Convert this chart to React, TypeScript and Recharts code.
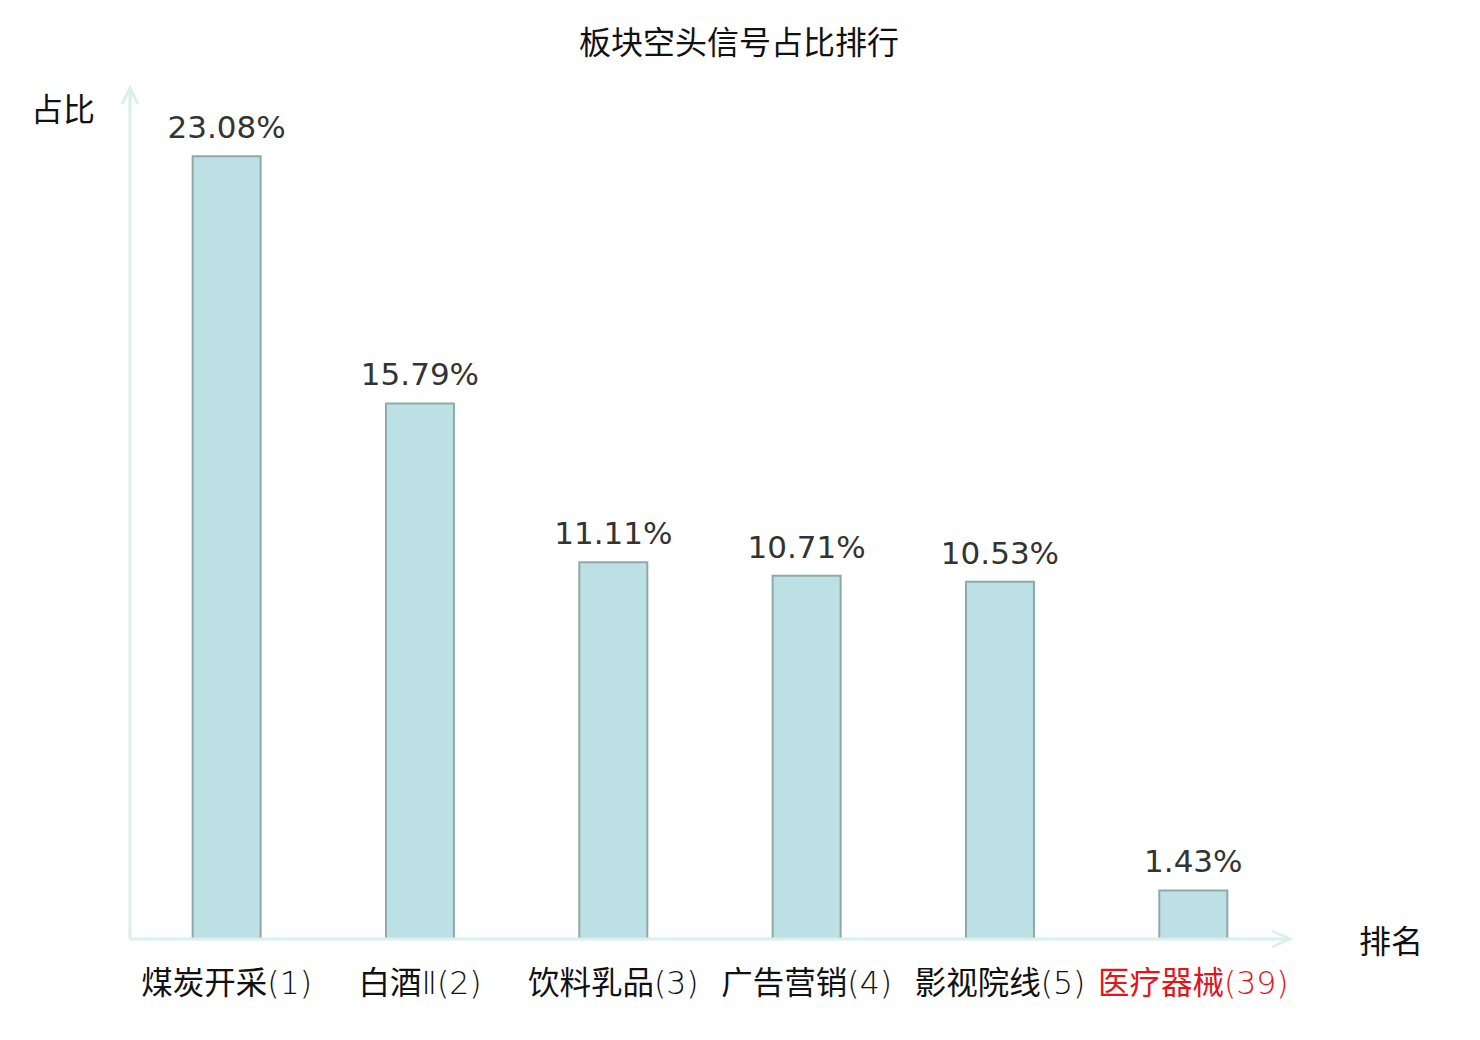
import React from 'react';
import { BarChart, Bar, XAxis, YAxis, LabelList } from 'recharts';

const categories = ['煤炭开采(1)', '白酒Ⅱ(2)', '饮料乳品(3)', '广告营销(4)', '影视院线(5)', '医疗器械(39)'];
const values = [23.08, 15.79, 11.11, 10.71, 10.53, 1.43];
const highlighted = ['医疗器械(39)'];
const yDomain = [0, 25];

const data = categories.map((name, i) => ({ name, value: values[i] }));

const W = 1480;
const H = 1040;
const XH = 30;
const M = { top: 91, right: 190, bottom: 101 - XH, left: 130 };
const AXIS_COLOR = '#d9f0ec';
const CJK = '"Noto Sans CJK SC", "DejaVu Sans", sans-serif';
const NUM = '"DejaVu Sans", "Noto Sans CJK SC", sans-serif';

const CategoryTick = (props: any) => {
  const { x, y, payload } = props;
  const red = highlighted.includes(payload.value);
  const parts: string[] = String(payload.value).match(/[\u4e00-\u9fff]+|[^\u4e00-\u9fff]+/g) || [];
  return (
    <text
      x={x}
      y={y + 55}
      textAnchor="middle"
      fontSize={31.5}
      fill={red ? '#e0161c' : '#111'}
    >
      {parts.map((p, i) =>
        /[\u4e00-\u9fff]/.test(p) ? (
          <tspan key={i} fontFamily={CJK}>{p}</tspan>
        ) : (
          <tspan key={i} fontFamily={NUM} fontWeight={200}>{p}</tspan>
        )
      )}
    </text>
  );
};

export default function App() {
  const x0 = M.left;
  const x1 = W - M.right;
  const yb = H - M.bottom - XH;
  const yt = M.top - 3;
  return (
    <div style={{ position: 'absolute', left: 0, top: 0, width: W, height: H, background: '#fff' }}>
      <BarChart width={W} height={H} data={data} margin={M} barCategoryGap="32.4%">
        <XAxis
          dataKey="name"
          height={XH}
          axisLine={{ stroke: AXIS_COLOR, strokeWidth: 3 }}
          tickLine={false}
          tickSize={0}
          tickMargin={0}
          tick={<CategoryTick />}
          interval={0}
        />
        <YAxis domain={yDomain} hide />
        <Bar
          dataKey="value"
          fill="#bce0e3"
          stroke="#8ea9aa"
          strokeWidth={2}
          isAnimationActive={false}
        >
          <LabelList
            dataKey="value"
            position="top"
            offset={18}
            formatter={(v: any) => `${Number(v).toFixed(2)}%`}
            fill="#333"
            fontSize={31}
            fontFamily={NUM}
          />
        </Bar>
      </BarChart>
      <svg width={W} height={H} style={{ position: 'absolute', left: 0, top: 0, pointerEvents: 'none' }}>
        <line x1={x0} y1={yb} x2={x0} y2={yt} stroke={AXIS_COLOR} strokeWidth={3} />
        <polyline points={`${x0 - 8},${yt + 16} ${x0},${yt} ${x0 + 8},${yt + 16}`} fill="none" stroke={AXIS_COLOR} strokeWidth={3} />
        <polyline points={`${x1 - 18},${yb - 8} ${x1},${yb} ${x1 - 18},${yb + 8}`} fill="none" stroke={AXIS_COLOR} strokeWidth={3} />
        <text x={W / 2 - 1} y={54} textAnchor="middle" fontSize={32} fontFamily={CJK} fill="#111">板块空头信号占比排行</text>
        <text x={63} y={121} textAnchor="middle" fontSize={32} fontFamily={CJK} fill="#111">占比</text>
        <text x={1391} y={953} textAnchor="middle" fontSize={32} fontFamily={CJK} fill="#111">排名</text>
      </svg>
    </div>
  );
}
